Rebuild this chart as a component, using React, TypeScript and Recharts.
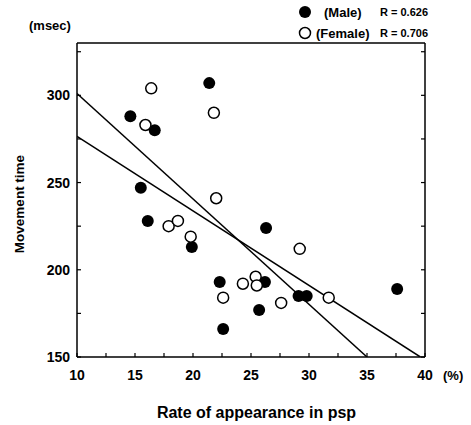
import React from 'react';
import { ScatterChart, Scatter, XAxis, YAxis } from 'recharts';

const FONT = '"Liberation Sans", Arial, Helvetica, sans-serif';

// axis ticks (minor ticks every 2.5 % and 25 msec, labels on the major ones)
const xTicks = [10, 12.5, 15, 17.5, 20, 22.5, 25, 27.5, 30, 32.5, 35, 37.5, 40];
const yTicks = [150, 175, 200, 225, 250, 275, 300, 325];
const xLabels = [10, 15, 20, 25, 30, 35, 40];
const yLabels = [150, 200, 250, 300];

// male (filled circles)
const maleRate = [21.4, 14.6, 16.7, 15.5, 16.1, 19.9, 26.3, 22.3, 26.2, 25.7, 22.6, 29.1, 29.8, 37.6];
const maleTime = [307, 288, 280, 247, 228, 213, 224, 193, 193, 177, 166, 185, 185, 189];

// female (open circles)
const femaleRate = [16.4, 21.8, 15.9, 22.0, 17.9, 18.7, 19.8, 29.2, 22.6, 24.3, 25.4, 25.5, 27.6, 31.7];
const femaleTime = [304, 290, 283, 241, 225, 228, 219, 212, 184, 192, 196, 191, 181, 184];

// regression lines, end points
const steepFitRate = [10, 35];
const steepFitTime = [301, 150];
const flatFitRate = [10, 39.6];
const flatFitTime = [276.5, 150];

const zip = (xs: number[], ys: number[]) => xs.map((x, i) => ({ x, y: ys[i] }));

const maleData = zip(maleRate, maleTime);
const femaleData = zip(femaleRate, femaleTime);
const steepFit = zip(steepFitRate, steepFitTime);
const flatFit = zip(flatFitRate, flatFitTime);

const axisLine = { stroke: '#000', strokeWidth: 1.5 };
const TICK = 4;

// ticks point into the plot, like the printed figure
const BottomTick = (p: any) => {
  const v = p.payload.value;
  return (
    <g>
      <line x1={p.x} x2={p.x} y1={p.y} y2={p.y - TICK} stroke="#000" strokeWidth={1.2} />
      {xLabels.includes(v) && (
        <text x={p.x} y={p.y + 23} textAnchor="middle" fontSize={14} fontWeight="bold" fontFamily={FONT} fill="#000">
          {v}
        </text>
      )}
    </g>
  );
};

const TopTick = (p: any) => (
  <line x1={p.x} x2={p.x} y1={p.y} y2={p.y + TICK} stroke="#000" strokeWidth={1.2} />
);

const LeftTick = (p: any) => {
  const v = p.payload.value;
  return (
    <g>
      <line x1={p.x} x2={p.x + TICK} y1={p.y} y2={p.y} stroke="#000" strokeWidth={1.2} />
      {yLabels.includes(v) && (
        <text x={p.x - 7} y={p.y + 5} textAnchor="end" fontSize={14} fontWeight="bold" fontFamily={FONT} fill="#000">
          {v}
        </text>
      )}
    </g>
  );
};

const RightTick = (p: any) => (
  <line x1={p.x} x2={p.x - TICK} y1={p.y} y2={p.y} stroke="#000" strokeWidth={1.2} />
);

const FilledDot = (p: any) => <circle cx={p.cx} cy={p.cy} r={6} fill="#000" />;
const OpenDot = (p: any) => (
  <circle cx={p.cx} cy={p.cy} r={5.5} fill="#fff" stroke="#000" strokeWidth={1.5} />
);
const NoDot = () => <g />;

export default function App() {
  return (
    <div style={{ position: 'absolute', left: 0, top: 0, width: 471, height: 425, background: '#fff' }}>
      <ScatterChart width={471} height={425} margin={{ top: 0, right: 0, bottom: 0, left: 0 }}>
        <XAxis
          type="number"
          dataKey="x"
          domain={[10, 40]}
          ticks={xTicks}
          allowDataOverflow
          height={68}
          tickSize={0}
          tickMargin={0}
          tick={BottomTick}
          tickLine={false}
          axisLine={axisLine}
          interval={0}
        />
        <XAxis
          xAxisId="top"
          orientation="top"
          type="number"
          domain={[10, 40]}
          ticks={xTicks}
          allowDataOverflow
          height={43}
          tickSize={0}
          tickMargin={0}
          tick={TopTick}
          tickLine={false}
          axisLine={axisLine}
          interval={0}
        />
        <YAxis
          type="number"
          dataKey="y"
          domain={[150, 330]}
          ticks={yTicks}
          allowDataOverflow
          width={77}
          tickSize={0}
          tickMargin={0}
          tick={LeftTick}
          tickLine={false}
          axisLine={axisLine}
          interval={0}
        />
        <YAxis
          yAxisId="right"
          orientation="right"
          type="number"
          domain={[150, 330]}
          ticks={yTicks}
          allowDataOverflow
          width={46}
          tickSize={0}
          tickMargin={0}
          tick={RightTick}
          tickLine={false}
          axisLine={axisLine}
          interval={0}
        />
        <Scatter data={steepFit} line={{ stroke: '#000', strokeWidth: 1.5 }} shape={NoDot} isAnimationActive={false} />
        <Scatter data={flatFit} line={{ stroke: '#000', strokeWidth: 1.5 }} shape={NoDot} isAnimationActive={false} />
        <Scatter data={maleData} shape={FilledDot} isAnimationActive={false} />
        <Scatter data={femaleData} shape={OpenDot} isAnimationActive={false} />
      </ScatterChart>
      <svg
        width={471}
        height={425}
        style={{ position: 'absolute', left: 0, top: 0, pointerEvents: 'none' }}
        fontFamily={FONT}
        fontWeight="bold"
        fill="#000"
      >
        <text x={29} y={29.5} fontSize={13}>(msec)</text>
        <text x={443} y={380} fontSize={13}>(%)</text>
        <text
          x={0}
          y={0}
          fontSize={13.5}
          textAnchor="middle"
          transform="translate(23.5 204) rotate(-90)"
        >
          Movement time
        </text>
        <text x={256.5} y={418} fontSize={16} textAnchor="middle">Rate of appearance in psp</text>

        <circle cx={305} cy={12} r={6} fill="#000" />
        <text x={324} y={16.5} fontSize={13}>(Male)</text>
        <text x={380} y={16} fontSize={11}>R = 0.626</text>

        <circle cx={305} cy={33} r={5.5} fill="#fff" stroke="#000" strokeWidth={1.5} />
        <text x={316} y={37.5} fontSize={13}>(Female)</text>
        <text x={380} y={37} fontSize={11}>R = 0.706</text>
      </svg>
    </div>
  );
}
